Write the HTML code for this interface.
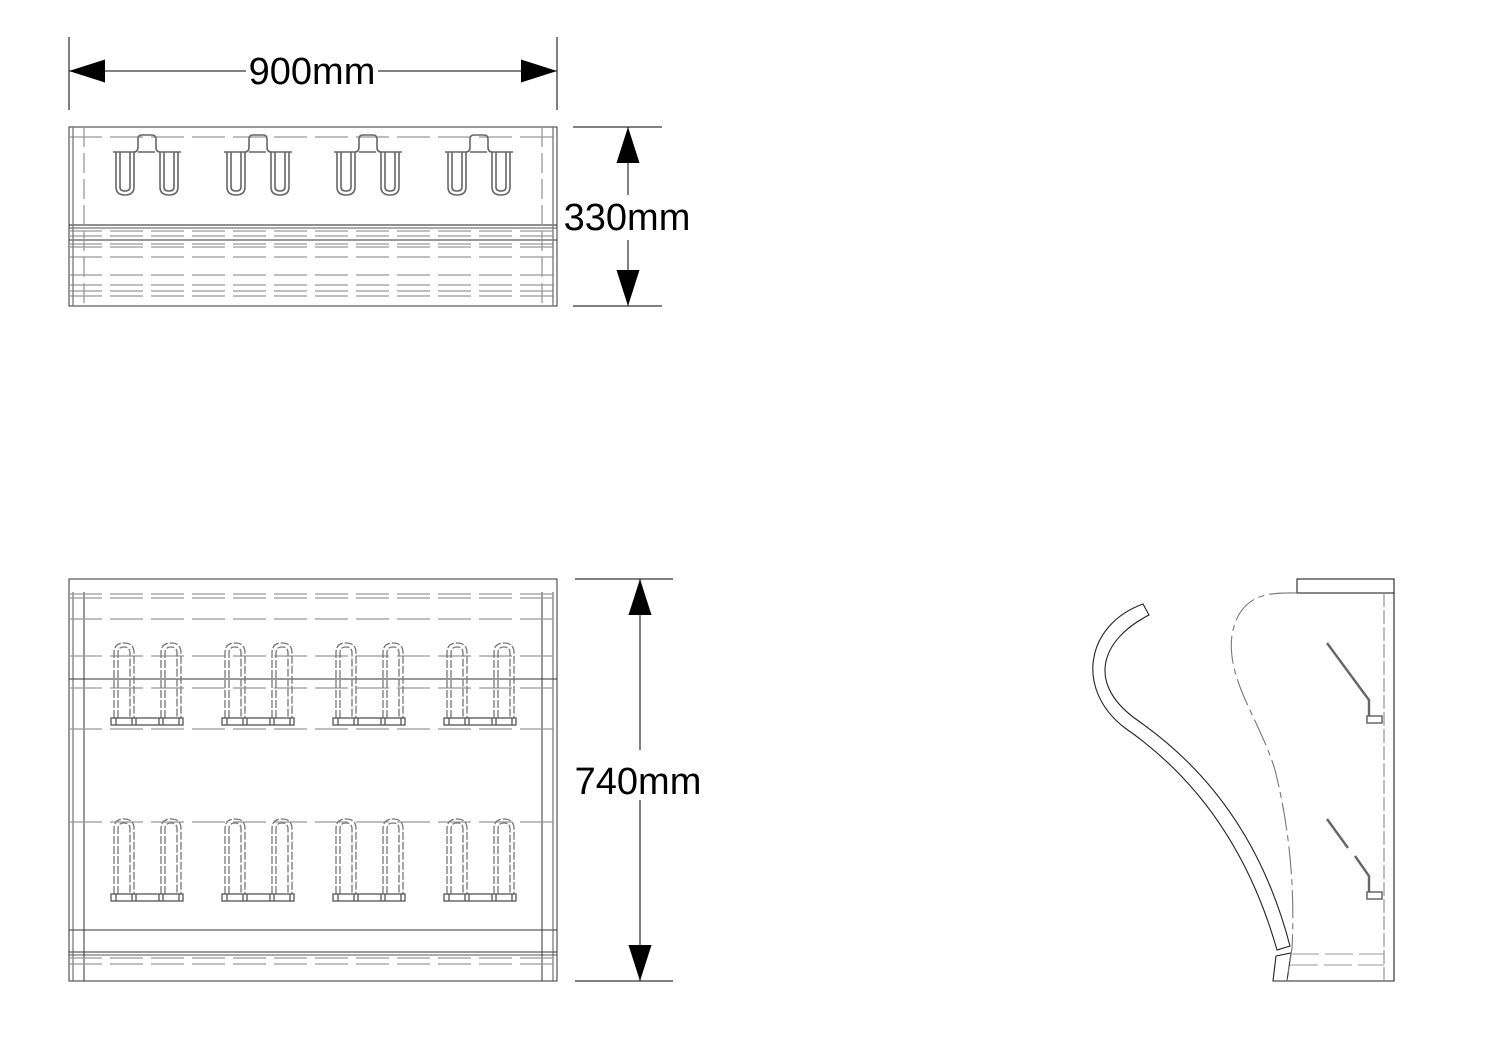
<!DOCTYPE html>
<html><head><meta charset="utf-8"><style>
html,body{margin:0;padding:0;background:#fff;width:1500px;height:1060px;overflow:hidden}
svg{display:block}
text{font-family:"Liberation Sans",sans-serif;font-size:38px;fill:#000}
</style></head><body>
<svg width="1500" height="1060" viewBox="0 0 1500 1060" xmlns="http://www.w3.org/2000/svg">
<defs>
 <marker id="ar" viewBox="0 0 10 10" refX="10" refY="5" markerWidth="36" markerHeight="36" markerUnits="userSpaceOnUse" orient="auto-start-reverse">
  <path d="M0,1.8 L10,5 L0,8.2 Z" fill="#000"/>
 </marker>
 <g id="th" fill="none" stroke="#666" stroke-width="1.6">
  <path d="M0,17 H22 M25,17 H42 M46,17 H68"/>
  <path d="M3,17 V52 Q3,60 12,60 Q21,60 21,52 V17 M7,17 V52 Q7,56 12,56 Q17,56 17,52 V17"/>
  <path d="M47,17 V52 Q47,60 56,60 Q65,60 65,52 V17 M51,17 V52 Q51,56 56,56 Q61,56 61,52 V17"/>
  <path d="M21,17 Q25,17 25,12 V4 Q25,0 29,0 H39 Q43,0 43,4 V12 Q43,17 47,17"/>
 </g>
 <g id="fh" fill="none" stroke="#777" stroke-width="1.3">
  <path d="M2,75 V10 Q2,0 12,0 Q22,0 22,10 V75 M6,75 V10 Q6,4 12,4 Q18,4 18,10 V75" stroke-dasharray="8 2"/>
  <path d="M49,75 V10 Q49,0 59,0 Q69,0 69,10 V75 M53,75 V10 Q53,4 59,4 Q65,4 65,10 V75" stroke-dasharray="8 2"/>
  <rect x="-1" y="75" width="72" height="7" stroke="#555"/>
  <path d="M4,75 v7 M20,75 v7 M24,75 v7 M47,75 v7 M51,75 v7 M67,75 v7" stroke="#555"/>
 </g>
</defs>

<g fill="none" stroke="#000" stroke-width="1">
 <line x1="69" y1="37" x2="69" y2="110"/>
 <line x1="557" y1="37" x2="557" y2="110"/>
 <line x1="246" y1="71" x2="69" y2="71" marker-end="url(#ar)"/>
 <line x1="378" y1="71" x2="557" y2="71" marker-end="url(#ar)"/>
 <rect x="69" y="127" width="488" height="179" stroke="#333"/>
 <line x1="69" y1="225" x2="557" y2="225" stroke="#222"/>
 <line x1="69" y1="228" x2="557" y2="228" stroke="#555"/>
 <line x1="69" y1="240" x2="557" y2="240" stroke="#333"/>
 <line x1="573" y1="127" x2="662" y2="127"/>
 <line x1="573" y1="306" x2="662" y2="306"/>
 <line x1="628" y1="195" x2="628" y2="127" marker-end="url(#ar)"/>
 <line x1="628" y1="240" x2="628" y2="306" marker-end="url(#ar)"/>
</g>
<g fill="none" stroke="#999" stroke-width="1.3" stroke-dasharray="33 8">
 <line x1="69" y1="137" x2="557" y2="137"/>
 <line x1="69" y1="231" x2="557" y2="231"/>
 <line x1="69" y1="236" x2="557" y2="236"/>
 <line x1="69" y1="244" x2="557" y2="244"/>
 <line x1="69" y1="247" x2="557" y2="247"/>
 <line x1="69" y1="257" x2="557" y2="257"/>
 <line x1="69" y1="275" x2="557" y2="275"/>
 <line x1="69" y1="285" x2="557" y2="285"/>
 <line x1="69" y1="291" x2="557" y2="291"/>
 <line x1="69" y1="296" x2="557" y2="296"/>
 <line x1="73" y1="127" x2="73" y2="306" stroke-dasharray="none" stroke="#777"/>
 <line x1="84" y1="127" x2="84" y2="306" stroke-dasharray="20 6"/>
 <line x1="553" y1="127" x2="553" y2="306" stroke-dasharray="none" stroke="#777"/>
 <line x1="542" y1="127" x2="542" y2="306" stroke-dasharray="20 6"/>
</g>
<use href="#th" x="113" y="135"/>
<use href="#th" x="224" y="135"/>
<use href="#th" x="334" y="135"/>
<use href="#th" x="445" y="135"/>
<text x="312" y="84" text-anchor="middle">900mm</text>
<text x="627" y="230" text-anchor="middle">330mm</text>

<g fill="none" stroke="#000" stroke-width="1">
 <rect x="69" y="579" width="488" height="402" stroke="#333"/>
 <line x1="69" y1="679" x2="557" y2="679" stroke="#333"/>
 <line x1="69" y1="930" x2="557" y2="930" stroke="#333"/>
 <line x1="69" y1="952" x2="557" y2="952" stroke="#333"/>
 <line x1="69" y1="955" x2="557" y2="955" stroke="#555"/>
 <line x1="73" y1="592" x2="73" y2="981" stroke="#555"/>
 <line x1="84" y1="592" x2="84" y2="981" stroke="#333"/>
 <line x1="553" y1="592" x2="553" y2="981" stroke="#555"/>
 <line x1="542" y1="592" x2="542" y2="981" stroke="#333"/>
 <line x1="575" y1="579" x2="673" y2="579"/>
 <line x1="575" y1="981" x2="673" y2="981"/>
 <line x1="640" y1="750" x2="640" y2="579" marker-end="url(#ar)"/>
 <line x1="640" y1="800" x2="640" y2="981" marker-end="url(#ar)"/>
</g>
<g fill="none" stroke="#999" stroke-width="1.3" stroke-dasharray="33 8">
 <line x1="69" y1="594" x2="557" y2="594"/>
 <line x1="69" y1="598" x2="557" y2="598"/>
 <line x1="69" y1="619" x2="557" y2="619"/>
 <line x1="69" y1="656" x2="557" y2="656"/>
 <line x1="69" y1="688" x2="557" y2="688"/>
 <line x1="69" y1="729" x2="557" y2="729"/>
 <line x1="69" y1="822" x2="557" y2="822"/>
 <line x1="69" y1="958" x2="557" y2="958"/>
 <line x1="69" y1="964" x2="557" y2="964"/>
</g>
<use href="#fh" x="112" y="643"/>
<use href="#fh" x="223" y="643"/>
<use href="#fh" x="334" y="643"/>
<use href="#fh" x="445" y="643"/>
<use href="#fh" x="112" y="819"/>
<use href="#fh" x="223" y="819"/>
<use href="#fh" x="334" y="819"/>
<use href="#fh" x="445" y="819"/>
<text x="638" y="794" text-anchor="middle">740mm</text>

<g fill="none" stroke="#222" stroke-width="1.1">
 <rect x="1297" y="579" width="97" height="14"/>
 <path d="M1394,593 V981 H1287"/>
 <line x1="1384" y1="593" x2="1384" y2="981" stroke="#888" stroke-dasharray="14 3"/>
 <path d="M1143,604 L1149,615 C1100,640 1085,685 1140,722 C1215,775 1265,850 1290,946 L1277,950 C1250,855 1200,780 1125,728 C1075,690 1085,625 1143,604 Z"/>
 <path d="M1276,956 L1291,953 L1287,981 L1273,981 Z"/>
 <path d="M1297,593 C1275,593 1240,590 1232,635 C1226,680 1260,720 1275,770 C1290,830 1295,890 1292,948 L1287,981" stroke="#777" stroke-dasharray="28 5 6 5"/>
 <line x1="1291" y1="954" x2="1384" y2="954" stroke="#999" stroke-dasharray="28 6"/>
 <line x1="1290" y1="965" x2="1384" y2="965" stroke="#999" stroke-dasharray="28 6"/>
</g>
<g fill="none" stroke="#666" stroke-width="2.4">
 <path d="M1327,643 L1369,700 V716"/>
 <path d="M1327,819 L1348,848 M1355,856 L1369,876 V892"/>
 <rect x="1367" y="716" width="15" height="7" stroke-width="1.5"/>
 <rect x="1367" y="892" width="15" height="7" stroke-width="1.5"/>
</g>
</svg>
</body></html>
